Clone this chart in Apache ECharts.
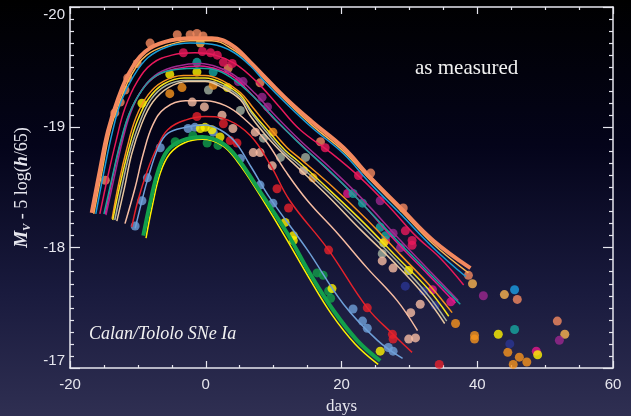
<!DOCTYPE html>
<html>
<head>
<meta charset="utf-8">
<script src="https://cdn.jsdelivr.net/npm/echarts@6/dist/echarts.min.js"></script>
<style>
  html, body { margin: 0; padding: 0; background: #000; }
  #chart { width: 631px; height: 416px; }
</style>
</head>
<body>
<div id="chart"></div>
<script>
// light curves, [day, magnitude]
var salmonCurve = [[-16.8,-18.29],[-15.6,-18.64],[-14.4,-18.97],[-12.9,-19.24],[-11.2,-19.46],[-8.9,-19.63],[-6.0,-19.71],[-2.3,-19.74],[0.9,-19.74],[3.9,-19.68],[6.6,-19.54],[8.5,-19.43],[12.0,-19.23],[15.8,-19.04],[20.3,-18.83],[24.3,-18.58],[28.7,-18.33],[33.5,-18.06],[39.0,-17.83]];
var goldCurve = [[-16.5,-18.28],[-15.3,-18.63],[-14.1,-18.97],[-12.6,-19.22],[-10.9,-19.44],[-8.7,-19.6],[-5.7,-19.68],[-2.3,-19.72],[0.9,-19.72],[3.9,-19.65],[6.6,-19.53],[8.5,-19.41],[12.0,-19.21],[15.8,-19.01],[20.3,-18.8],[24.3,-18.56],[28.7,-18.31],[33.5,-18.03],[38.7,-17.79]];
var skyCurve = [[-16.2,-18.28],[-15.0,-18.63],[-13.8,-18.95],[-12.5,-19.21],[-10.7,-19.42],[-8.5,-19.58],[-5.6,-19.67],[-2.3,-19.7],[0.9,-19.69],[3.9,-19.63],[6.6,-19.51],[8.5,-19.39],[12.0,-19.19],[15.8,-18.99],[20.3,-18.78],[24.3,-18.53],[28.7,-18.28],[33.5,-18.0],[38.3,-17.76]];
var crimsonCurve = [[-15.6,-18.28],[-14.4,-18.6],[-13.2,-18.89],[-11.9,-19.16],[-10.1,-19.38],[-7.9,-19.53],[-5.0,-19.6],[-1.6,-19.62],[1.4,-19.6],[4.3,-19.53],[7.3,-19.39],[10.7,-19.18],[13.9,-18.98],[18.4,-18.79],[22.8,-18.58],[27.2,-18.33],[30.9,-18.1],[34.6,-17.91],[38.0,-17.69]];
var purpleCurve = [[-14.7,-18.27],[-13.5,-18.58],[-12.3,-18.88],[-11.0,-19.13],[-9.2,-19.33],[-7.0,-19.45],[-4.1,-19.51],[-0.8,-19.53],[1.8,-19.5],[4.3,-19.43],[7.3,-19.28],[10.2,-19.1],[13.9,-18.89],[18.4,-18.66],[22.8,-18.42],[28.7,-18.06],[33.1,-17.8],[37.2,-17.56]];
var magentaCurve = [[-14.8,-18.28],[-13.7,-18.59],[-12.5,-18.88],[-11.2,-19.12],[-9.4,-19.31],[-7.2,-19.43],[-4.2,-19.49],[-0.8,-19.51],[1.8,-19.48],[4.3,-19.41],[7.0,-19.26],[9.9,-19.08],[13.6,-18.88],[18.1,-18.64],[22.5,-18.4],[28.2,-18.04],[32.7,-17.78],[36.8,-17.54]];
var tealCurve = [[-15.0,-18.28],[-13.8,-18.58],[-12.6,-18.87],[-11.3,-19.11],[-9.5,-19.3],[-7.3,-19.43],[-4.4,-19.48],[-0.8,-19.49],[1.8,-19.47],[4.3,-19.39],[7.3,-19.24],[10.2,-19.07],[13.9,-18.86],[18.4,-18.63],[22.8,-18.38],[28.7,-18.03],[33.4,-17.76],[37.5,-17.53]];
var orangeCurve = [[-13.8,-18.24],[-12.8,-18.54],[-11.6,-18.83],[-10.3,-19.08],[-8.5,-19.27],[-6.3,-19.38],[-3.3,-19.43],[-0.1,-19.43],[2.4,-19.39],[5.1,-19.29],[7.0,-19.16],[9.5,-18.99],[12.0,-18.83],[13.9,-18.74],[18.8,-18.5],[23.8,-18.23],[28.7,-17.94],[33.1,-17.68],[36.3,-17.46]];
var lemonCurve = [[-13.7,-18.23],[-12.6,-18.53],[-11.4,-18.81],[-10.1,-19.05],[-8.4,-19.24],[-6.2,-19.36],[-3.2,-19.41],[-0.1,-19.41],[2.4,-19.37],[5.1,-19.27],[6.8,-19.13],[9.2,-18.97],[11.7,-18.81],[13.6,-18.72],[18.4,-18.47],[23.4,-18.2],[28.2,-17.92],[32.7,-17.66],[35.8,-17.43]];
var grayCurve = [[-13.4,-18.23],[-12.3,-18.52],[-11.2,-18.79],[-9.8,-19.03],[-8.1,-19.23],[-5.8,-19.35],[-2.9,-19.39],[-0.1,-19.39],[2.4,-19.35],[5.1,-19.25],[6.7,-19.12],[9.1,-18.95],[11.6,-18.79],[13.5,-18.7],[18.1,-18.46],[23.1,-18.18],[28.0,-17.9],[32.4,-17.63],[35.5,-17.39]];
var tanCurve = [[-13.1,-18.22],[-12.0,-18.49],[-10.9,-18.78],[-9.5,-19.02],[-7.8,-19.21],[-5.5,-19.33],[-2.6,-19.38],[-0.1,-19.38],[2.4,-19.33],[5.1,-19.23],[6.5,-19.1],[8.9,-18.93],[11.4,-18.78],[13.3,-18.68],[17.8,-18.44],[22.8,-18.15],[27.7,-17.88],[32.1,-17.61],[35.2,-17.37]];
var peachCurve = [[-11.9,-18.2],[-10.4,-18.5],[-9.2,-18.78],[-7.8,-19.02],[-6.0,-19.16],[-3.0,-19.22],[-0.1,-19.22],[2.9,-19.18],[5.5,-19.08],[8.8,-18.89],[11.7,-18.64],[15.0,-18.39],[19.4,-18.12],[23.8,-17.83],[28.2,-17.56],[31.2,-17.31]];
var redCurve = [[-10.9,-18.17],[-10.0,-18.39],[-8.6,-18.64],[-7.2,-18.83],[-5.6,-18.98],[-3.0,-19.06],[-0.1,-19.09],[3.3,-19.06],[6.6,-18.93],[9.5,-18.69],[12.4,-18.39],[18.1,-17.98],[23.8,-17.5],[27.6,-17.28],[30.4,-17.13]];
var blueCurve = [[-10.4,-18.16],[-9.4,-18.39],[-8.5,-18.58],[-7.0,-18.83],[-5.6,-18.95],[-3.0,-19.0],[-0.1,-19.02],[2.1,-18.98],[4.3,-18.88],[6.8,-18.66],[9.5,-18.41],[15.0,-17.98],[20.3,-17.53],[25.3,-17.23],[29.0,-17.08]];
var greenCurve = [[-9.2,-18.1],[-8.2,-18.37],[-7.0,-18.64],[-5.6,-18.81],[-3.5,-18.89],[-0.5,-18.92],[2.4,-18.87],[4.6,-18.75],[7.6,-18.5],[12.0,-18.12],[15.4,-17.78],[18.8,-17.48],[22.3,-17.23],[25.7,-17.06]];
var yellowCurve = [[-8.8,-18.08],[-7.9,-18.34],[-6.7,-18.62],[-5.3,-18.78],[-3.2,-18.87],[-0.5,-18.9],[2.4,-18.85],[4.6,-18.72],[7.6,-18.47],[11.7,-18.09],[15.1,-17.76],[18.5,-17.45],[22.0,-17.2],[25.4,-17.03]];

// measured points
var salmonPts = [[-8.2,-19.70],[-4.2,-19.77],[-2.3,-19.77],[-1.3,-19.78],[-0.4,-19.76],[-10.1,-19.53],[-11.5,-19.41],[-11.9,-19.31],[-12.6,-19.21],[-13.4,-19.12],[-14.8,-18.56],[3.3,-19.49],[8.0,-19.37],[16.9,-18.88],[24.3,-18.62],[29.1,-18.33],[38.7,-17.77],[45.9,-17.57],[51.8,-17.39]];
var goldPts = [[-0.8,-19.70],[39.3,-17.70],[44.0,-17.61],[52.9,-17.28]];
var skyPts = [[45.5,-17.65]];
var crimsonPts = [[-3.3,-19.62],[-0.5,-19.63],[0.7,-19.62],[1.7,-19.60],[2.6,-19.54],[3.9,-19.53],[17.6,-18.83],[22.5,-18.60],[29.4,-18.14],[30.4,-18.06],[30.4,-18.02]];
var purplePts = [[4.8,-19.38],[5.5,-19.38],[8.3,-19.25],[9.1,-19.17],[25.7,-18.39],[27.6,-18.12],[28.7,-18.00],[40.9,-17.60],[52.1,-17.23]];
var magentaPts = [[20.9,-18.45],[26.5,-18.06],[33.4,-17.65],[36.1,-17.55],[48.7,-17.14]];
var tealPts = [[-1.3,-19.54],[1.1,-19.46],[21.7,-18.45],[23.1,-18.37],[25.7,-18.17],[26.5,-18.10],[45.5,-17.32]];
var yellowPts = [[-5.3,-19.44],[-1.3,-19.46],[-9.4,-19.20],[3.2,-19.33],[26.2,-18.04],[29.9,-17.81],[43.1,-17.28],[48.9,-17.11],[-0.8,-18.99],[-0.1,-19.00],[0.9,-18.98],[2.1,-18.92],[11.7,-18.21],[12.9,-18.10],[12.9,-18.06],[18.6,-17.66],[25.7,-17.14]];
var greenPts = [[-4.5,-18.88],[-1.9,-18.93],[0.2,-18.87],[1.8,-18.85],[16.4,-17.79],[17.3,-17.77],[18.1,-17.64],[18.4,-17.58]];
var bluePts = [[-2.6,-18.99],[-1.6,-19.00],[1.1,-18.96],[-6.7,-18.83],[-8.6,-18.58],[-9.4,-18.39],[-10.4,-18.18],[5.1,-18.74],[8.0,-18.52],[9.9,-18.37],[21.7,-17.49],[23.1,-17.39],[23.8,-17.33],[26.9,-17.17],[27.6,-17.14]];
var redPts = [[-1.3,-19.09],[2.6,-19.03],[3.6,-18.89],[4.6,-18.87],[10.5,-18.49],[12.2,-18.33],[18.1,-17.98],[23.8,-17.50],[27.5,-17.28],[27.6,-17.24],[34.4,-17.03]];
var peachPts = [[-2.0,-19.21],[-0.2,-19.17],[2.4,-19.10],[4.0,-18.99],[7.0,-18.79],[8.0,-18.79],[9.8,-18.68],[7.3,-18.96],[14.4,-18.64],[26.0,-17.89],[27.6,-17.83],[31.6,-17.53],[30.2,-17.46],[29.9,-17.24],[30.9,-17.25]];
var grayPts = [[0.4,-19.31],[5.1,-19.14],[8.5,-18.91],[11.0,-18.75],[14.7,-18.75],[26.0,-17.95]];
var orangePts = [[-5.3,-19.28],[-3.5,-19.33],[1.1,-19.35],[9.9,-18.96],[15.8,-18.58],[36.8,-17.37],[39.6,-17.27],[39.6,-17.24],[44.5,-17.13],[46.2,-17.09],[47.3,-17.05],[45.3,-17.03]];
var navyPts = [[44.8,-17.20],[29.4,-17.68],[32.1,-17.64],[33.8,-17.52]];

var chart = echarts.init(document.getElementById('chart'));

function curve(data, color, width) {
  return {
    type: 'line', data: data, smooth: 0.4, showSymbol: false, silent: true,
    lineStyle: {color: color, width: width || 1.5}
  };
}
function dots(data, color) {
  return {
    type: 'scatter', data: data, symbolSize: 9, silent: true,
    itemStyle: {color: color}
  };
}

var axisColor = '#e6e6ee';
var labelFont = {color: axisColor, fontFamily: 'Liberation Sans', fontSize: 15};

// frame axis, ticks pointing into the plot
function frameAxis(extra, majorLen, minorLen, minorSplit) {
  return Object.assign({
    type: 'value',
    axisLine: {show: true, onZero: false, lineStyle: {color: axisColor, width: 1.5}},
    axisTick: {show: true, inside: true, length: majorLen, lineStyle: {color: axisColor, width: 1.2}},
    minorTick: {show: true, splitNumber: minorSplit, length: minorLen, lineStyle: {color: axisColor, width: 1.2}},
    splitLine: {show: false},
    minorSplitLine: {show: false},
    axisLabel: {show: false}
  }, extra);
}

var option = {
  animation: false,
  backgroundColor: {
    type: 'linear', x: 0, y: 0, x2: 0, y2: 1,
    colorStops: [
      {offset: 0, color: '#000000'},
      {offset: 0.35, color: '#04041a'},
      {offset: 0.7, color: '#191a3d'},
      {offset: 1, color: '#2f2f52'}
    ]
  },
  grid: {left: 70, right: 18, top: 7, bottom: 48, outerBoundsMode: 'none'},
  xAxis: [
    frameAxis({
      min: -20, max: 60, interval: 20, position: 'bottom',
      axisLabel: Object.assign({show: true, margin: 9}, labelFont),
      name: 'days', nameLocation: 'middle', nameGap: 30,
      nameTextStyle: {color: axisColor, fontFamily: 'Liberation Serif', fontSize: 17}
    }, 7, 3, 4),
    frameAxis({min: -20, max: 60, interval: 20, position: 'top'}, 7, 3, 4)
  ],
  yAxis: [
    frameAxis({
      min: -20, max: -17, interval: 1, inverse: true, position: 'left',
      axisLabel: Object.assign({show: true, margin: 5, verticalAlignMinLabel: 'top', verticalAlignMaxLabel: 'bottom'}, labelFont),
      name: '{m|M}{v|V}{n| - 5 log(}{h|h}{n|/65)}',
      nameLocation: 'middle', nameGap: 27, nameRotate: 90,
      nameTextStyle: {
        color: axisColor,
        rich: {
          m: {fontFamily: 'Liberation Serif', fontSize: 19, fontStyle: 'italic', fontWeight: 'bold', color: axisColor},
          v: {fontFamily: 'Liberation Serif', fontSize: 11, fontStyle: 'italic', fontWeight: 'bold', color: axisColor, padding: [10, 0, 0, 0]},
          n: {fontFamily: 'Liberation Serif', fontSize: 18, color: axisColor},
          h: {fontFamily: 'Liberation Serif', fontSize: 18, fontStyle: 'italic', fontWeight: 'bold', color: axisColor}
        }
      }
    }, 10, 4, 10),
    frameAxis({min: -20, max: -17, interval: 1, inverse: true, position: 'right'}, 10, 4, 10)
  ],
  graphic: [{
    type: 'text', left: 415, top: 58,
    style: {text: 'as measured', fill: '#f2f2f2', font: '21px "Liberation Serif"'}
  }, {
    type: 'text', left: 89, top: 325,
    style: {text: 'Calan/Tololo SNe Ia', fill: '#f2f2f2', font: 'italic 18px "Liberation Serif"'}
  }],
  series: [
    curve(goldCurve, '#fbb44f'),
    curve(skyCurve, '#1a9dd9'),
    curve(crimsonCurve, '#e8195b'),
    curve(purpleCurve, '#a0298f'),
    curve(magentaCurve, '#e3168a'),
    curve(tealCurve, '#19a39c'),
    curve(orangeCurve, '#f7941d'),
    curve(lemonCurve, '#f5e31b'),
    curve(grayCurve, '#a9b3a1'),
    curve(tanCurve, '#e8c7a0'),
    curve(peachCurve, '#f6bca2'),
    curve(redCurve, '#e3222b'),
    curve(blueCurve, '#6e9fd8'),
    curve(yellowCurve, '#fff200'),
    curve(greenCurve, '#12a04b', 4),
    curve(salmonCurve, '#f4895f', 4),
    dots(salmonPts, '#f4895f'),
    dots(goldPts, '#fbb44f'),
    dots(skyPts, '#1a9de3'),
    dots(crimsonPts, '#e8195b'),
    dots(purplePts, '#9c278e'),
    dots(magentaPts, '#e3168a'),
    dots(tealPts, '#17a7a0'),
    dots(grayPts, '#a3b2a0'),
    dots(orangePts, '#f7941d'),
    dots(peachPts, '#f6bca2'),
    dots(navyPts, '#2a3591'),
    dots(redPts, '#e6202a'),
    dots(bluePts, '#6fa0da'),
    dots(greenPts, '#13a04b'),
    dots(yellowPts, '#fff200')
  ]
};

chart.setOption(option);
</script>
</body>
</html>
